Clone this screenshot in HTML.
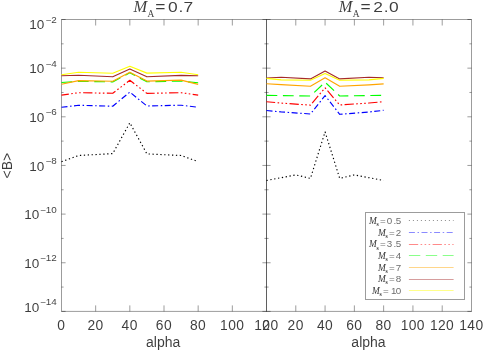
<!DOCTYPE html>
<html><head><meta charset="utf-8"><title>chart</title>
<style>html,body{margin:0;padding:0;background:#fff}svg{display:block;will-change:transform}.t{filter:grayscale(1)}</style></head>
<body><svg width="490" height="350" viewBox="0 0 490 350">
<rect width="490" height="350" fill="#fff"/>
<g style="stroke:#000;stroke-opacity:.39;stroke-width:1;fill:none">
<rect x="61.5" y="19.5" width="205.0" height="291.9"/>
<rect x="266.5" y="19.5" width="205.0" height="291.9"/>
<path d="M95.67 19.5v6M95.67 311.4v-6M129.83 19.5v6M129.83 311.4v-6M164.00 19.5v6M164.00 311.4v-6M198.17 19.5v6M198.17 311.4v-6M232.33 19.5v6M232.33 311.4v-6M295.79 19.5v6M295.79 311.4v-6M325.07 19.5v6M325.07 311.4v-6M354.36 19.5v6M354.36 311.4v-6M383.64 19.5v6M383.64 311.4v-6M412.93 19.5v6M412.93 311.4v-6M442.21 19.5v6M442.21 311.4v-6M61.5 19.50h4.1M266.5 19.50h-4.1M266.5 19.50h4.1M471.5 19.50h-4.1M61.5 43.83h2.1M266.5 43.83h-2.1M266.5 43.83h2.1M471.5 43.83h-2.1M61.5 68.15h4.1M266.5 68.15h-4.1M266.5 68.15h4.1M471.5 68.15h-4.1M61.5 92.47h2.1M266.5 92.47h-2.1M266.5 92.47h2.1M471.5 92.47h-2.1M61.5 116.80h4.1M266.5 116.80h-4.1M266.5 116.80h4.1M471.5 116.80h-4.1M61.5 141.12h2.1M266.5 141.12h-2.1M266.5 141.12h2.1M471.5 141.12h-2.1M61.5 165.45h4.1M266.5 165.45h-4.1M266.5 165.45h4.1M471.5 165.45h-4.1M61.5 189.77h2.1M266.5 189.77h-2.1M266.5 189.77h2.1M471.5 189.77h-2.1M61.5 214.10h4.1M266.5 214.10h-4.1M266.5 214.10h4.1M471.5 214.10h-4.1M61.5 238.42h2.1M266.5 238.42h-2.1M266.5 238.42h2.1M471.5 238.42h-2.1M61.5 262.75h4.1M266.5 262.75h-4.1M266.5 262.75h4.1M471.5 262.75h-4.1M61.5 287.07h2.1M266.5 287.07h-2.1M266.5 287.07h2.1M471.5 287.07h-2.1M61.5 311.40h4.1M266.5 311.40h-4.1M266.5 311.40h4.1M471.5 311.40h-4.1"/>
</g>
<g style="fill:none;stroke-width:1.15;stroke-linejoin:round">
<polyline points="61.50,161.70 78.58,155.50 112.75,153.60 129.83,122.80 146.92,153.90 181.08,155.50 198.17,161.60" style="stroke:#000;stroke-dasharray:1.3 2.6"/>
<polyline points="61.50,107.30 78.58,105.30 112.75,106.20 129.83,92.10 146.92,106.00 181.08,105.20 198.17,107.30" style="stroke:#0000ff;stroke-dasharray:6 2.6 1.5 2.5;stroke-dashoffset:0"/>
<polyline points="61.50,95.10 78.58,92.70 112.75,93.30 129.83,80.30 146.92,93.40 181.08,92.70 198.17,95.10" style="stroke:#ff0000;stroke-dasharray:9.3 2.4 1.6 2.4 1.6 2.4 1.6 2.4;stroke-dashoffset:1.9"/>
<polyline points="61.50,82.50 78.58,81.30 112.75,81.90 129.83,72.85 146.92,81.80 181.08,81.10 198.17,82.80" style="stroke:#00ff00;stroke-dasharray:10.8 5.6"/>
<polyline points="61.50,84.20 78.58,80.60 112.75,81.30 129.83,72.20 146.92,81.10 181.08,80.10 198.17,84.40" style="stroke:#ffa500"/>
<polyline points="61.50,75.80 78.58,75.30 112.75,76.80 129.83,69.00 146.92,76.80 181.08,75.40 198.17,75.80" style="stroke:#a52a2a"/>
<polyline points="61.50,74.70 78.58,72.20 112.75,73.30 129.83,66.30 146.92,73.10 181.08,72.20 198.17,74.70" style="stroke:#ffff00"/>
<polyline points="266.50,180.50 295.79,174.90 310.43,178.40 325.07,131.90 339.71,178.40 354.36,174.90 383.64,180.50" style="stroke:#000;stroke-dasharray:1.3 2.6"/>
<polyline points="266.50,110.50 281.14,111.90 310.43,114.00 325.07,95.60 339.71,114.30 369.00,112.00 383.64,110.30" style="stroke:#0000ff;stroke-dasharray:6 2.6 1.5 2.5;stroke-dashoffset:0"/>
<polyline points="266.50,101.70 281.14,103.10 310.43,105.10 325.07,87.80 339.71,105.00 369.00,103.00 383.64,101.70" style="stroke:#ff0000;stroke-dasharray:9.3 2.4 1.6 2.4 1.6 2.4 1.6 2.4;stroke-dashoffset:0.6"/>
<polyline points="266.50,95.40 281.14,95.60 310.43,96.00 325.07,82.20 339.71,96.00 369.00,95.50 383.64,95.40" style="stroke:#00ff00;stroke-dasharray:10.8 5.6"/>
<polyline points="266.50,83.80 281.14,84.60 310.43,86.30 325.07,77.80 339.71,86.30 369.00,84.90 383.64,83.90" style="stroke:#ffa500"/>
<polyline points="266.50,78.00 281.14,77.30 310.43,78.90 325.07,71.10 339.71,78.90 369.00,77.30 383.64,77.70" style="stroke:#a52a2a"/>
<polyline points="266.50,78.40 281.14,79.90 310.43,80.20 325.07,73.40 339.71,80.30 369.00,79.90 383.64,78.40" style="stroke:#ffff00"/>
</g>
<rect x="365.5" y="212.5" width="99" height="87" style="stroke:#000;stroke-opacity:.39;stroke-width:1;fill:none"/>
<g style="fill:none;stroke-width:1;stroke-opacity:.46">
<path d="M408.9 220.5H453.6" style="stroke:#000;stroke-dasharray:1 3"/>
<path d="M408.9 232.5H453.6" style="stroke:#0000ff;stroke-dasharray:6 2.6 1.5 2.5"/>
<path d="M408.9 244.5H453.6" style="stroke:#ff0000;stroke-dasharray:9.3 2.4 1.6 2.4 1.6 2.4 1.6 2.4"/>
<path d="M408.9 255.5H453.6" style="stroke:#00ff00;stroke-dasharray:11.4 5.5"/>
<path d="M408.9 267.5H453.6" style="stroke:#ffa500"/>
<path d="M408.9 279.5H453.6" style="stroke:#a52a2a"/>
<path d="M408.9 290.5H453.6" style="stroke:#ffff00"/>
</g>
<g class="t" style="fill:#000">
<text fill-opacity=".8" x="368.9" y="224.0" style="font:italic 9.3px 'Liberation Serif',serif">M</text>
<text fill-opacity=".85" x="376.4" y="226.2" style="font:bold 5.8px 'Liberation Serif',serif">s</text>
<g transform="translate(0 224.0) scale(1.13 1)"><text fill-opacity=".6" x="336.19 342.21 348.23 350.18" y="0" style="font:8.7px 'Liberation Sans',sans-serif">=0.5</text></g>
<text fill-opacity=".8" x="377.9" y="235.6" style="font:italic 9.3px 'Liberation Serif',serif">M</text>
<text fill-opacity=".85" x="385.4" y="237.8" style="font:bold 5.8px 'Liberation Serif',serif">s</text>
<g transform="translate(0 235.6) scale(1.13 1)"><text fill-opacity=".6" x="344.16 350.18" y="0" style="font:8.7px 'Liberation Sans',sans-serif">=2</text></g>
<text fill-opacity=".8" x="368.9" y="247.3" style="font:italic 9.3px 'Liberation Serif',serif">M</text>
<text fill-opacity=".85" x="376.4" y="249.5" style="font:bold 5.8px 'Liberation Serif',serif">s</text>
<g transform="translate(0 247.3) scale(1.13 1)"><text fill-opacity=".6" x="336.19 342.21 348.23 350.18" y="0" style="font:8.7px 'Liberation Sans',sans-serif">=3.5</text></g>
<text fill-opacity=".8" x="377.9" y="258.9" style="font:italic 9.3px 'Liberation Serif',serif">M</text>
<text fill-opacity=".85" x="385.4" y="261.1" style="font:bold 5.8px 'Liberation Serif',serif">s</text>
<g transform="translate(0 258.9) scale(1.13 1)"><text fill-opacity=".6" x="344.16 350.18" y="0" style="font:8.7px 'Liberation Sans',sans-serif">=4</text></g>
<text fill-opacity=".8" x="377.9" y="270.5" style="font:italic 9.3px 'Liberation Serif',serif">M</text>
<text fill-opacity=".85" x="385.4" y="272.7" style="font:bold 5.8px 'Liberation Serif',serif">s</text>
<g transform="translate(0 270.5) scale(1.13 1)"><text fill-opacity=".6" x="344.16 350.18" y="0" style="font:8.7px 'Liberation Sans',sans-serif">=7</text></g>
<text fill-opacity=".8" x="377.9" y="282.1" style="font:italic 9.3px 'Liberation Serif',serif">M</text>
<text fill-opacity=".85" x="385.4" y="284.3" style="font:bold 5.8px 'Liberation Serif',serif">s</text>
<g transform="translate(0 282.1) scale(1.13 1)"><text fill-opacity=".6" x="344.16 350.18" y="0" style="font:8.7px 'Liberation Sans',sans-serif">=8</text></g>
<text fill-opacity=".8" x="372.0" y="293.8" style="font:italic 9.3px 'Liberation Serif',serif">M</text>
<text fill-opacity=".85" x="379.5" y="296.0" style="font:bold 5.8px 'Liberation Serif',serif">s</text>
<g transform="translate(0 293.8) scale(1.13 1)"><text fill-opacity=".6" x="338.94 345.93 350.18" y="0" style="font:8.7px 'Liberation Sans',sans-serif">=10</text></g>
</g>
<g class="t" style="fill:#000;font-family:'Liberation Sans',sans-serif" opacity=".76">
<text x="61.4" y="330.4" text-anchor="middle" font-size="13.8" letter-spacing="0.4">0</text>
<text x="95.6" y="330.4" text-anchor="middle" font-size="13.8" letter-spacing="0.4">20</text>
<text x="129.7" y="330.4" text-anchor="middle" font-size="13.8" letter-spacing="0.4">40</text>
<text x="163.9" y="330.4" text-anchor="middle" font-size="13.8" letter-spacing="0.4">60</text>
<text x="198.1" y="330.4" text-anchor="middle" font-size="13.8" letter-spacing="0.4">80</text>
<text x="232.2" y="330.4" text-anchor="middle" font-size="13.8" letter-spacing="0.4">100</text>
<text x="266.4" y="330.4" text-anchor="middle" font-size="13.8" letter-spacing="0.4">120</text>
<text x="266.4" y="330.4" text-anchor="middle" font-size="13.8" letter-spacing="0.4">0</text>
<text x="295.7" y="330.4" text-anchor="middle" font-size="13.8" letter-spacing="0.4">20</text>
<text x="325.0" y="330.4" text-anchor="middle" font-size="13.8" letter-spacing="0.4">40</text>
<text x="354.3" y="330.4" text-anchor="middle" font-size="13.8" letter-spacing="0.4">60</text>
<text x="383.5" y="330.4" text-anchor="middle" font-size="13.8" letter-spacing="0.4">80</text>
<text x="412.8" y="330.4" text-anchor="middle" font-size="13.8" letter-spacing="0.4">100</text>
<text x="442.1" y="330.4" text-anchor="middle" font-size="13.8" letter-spacing="0.4">120</text>
<text x="471.4" y="330.4" text-anchor="middle" font-size="13.8" letter-spacing="0.4">140</text>
<text x="163.2" y="346.8" text-anchor="middle" font-size="14">alpha</text>
<text x="368.5" y="346.8" text-anchor="middle" font-size="14">alpha</text>
<text x="44.2" y="29.1" text-anchor="end" font-size="13.5">10</text>
<g transform="translate(56.8 22.5) scale(1.15 1)"><text x="0" y="0" text-anchor="end" font-size="8.6">−2</text></g>
<text x="44.2" y="73.2" text-anchor="end" font-size="13.5">10</text>
<g transform="translate(56.8 66.7) scale(1.15 1)"><text x="0" y="0" text-anchor="end" font-size="8.6">−4</text></g>
<text x="44.2" y="121.9" text-anchor="end" font-size="13.5">10</text>
<g transform="translate(56.8 115.3) scale(1.15 1)"><text x="0" y="0" text-anchor="end" font-size="8.6">−6</text></g>
<text x="44.2" y="170.5" text-anchor="end" font-size="13.5">10</text>
<g transform="translate(56.8 163.9) scale(1.15 1)"><text x="0" y="0" text-anchor="end" font-size="8.6">−8</text></g>
<text x="39.4" y="219.2" text-anchor="end" font-size="13.5">10</text>
<g transform="translate(56.8 212.6) scale(1.15 1)"><text x="0" y="0" text-anchor="end" font-size="8.6">−10</text></g>
<text x="39.4" y="267.9" text-anchor="end" font-size="13.5">10</text>
<g transform="translate(56.8 261.2) scale(1.15 1)"><text x="0" y="0" text-anchor="end" font-size="8.6">−12</text></g>
<text x="39.4" y="311.5" text-anchor="end" font-size="13.5">10</text>
<g transform="translate(56.8 304.9) scale(1.15 1)"><text x="0" y="0" text-anchor="end" font-size="8.6">−14</text></g>
<text transform="translate(12.1 165.6) rotate(-90)" text-anchor="middle" font-size="14">&lt;B&gt;</text>
<text x="133.4" y="11.8" style="font:italic 16.4px 'Liberation Serif',serif">M</text>
<text x="147.5" y="17.2" style="font:9.4px 'Liberation Serif',serif">A</text>
<g transform="translate(134.0 11.9) scale(1.16 1)"><text font-size="15" x="18.28 29.22 38.36 42.76" y="0">=0.7</text></g>
<text x="338.7" y="11.8" style="font:italic 16.4px 'Liberation Serif',serif">M</text>
<text x="352.8" y="17.2" style="font:9.4px 'Liberation Serif',serif">A</text>
<g transform="translate(339.3 11.9) scale(1.16 1)"><text font-size="15" x="18.28 29.22 38.36 42.76" y="0">=2.0</text></g>
</g>
</svg></body></html>
